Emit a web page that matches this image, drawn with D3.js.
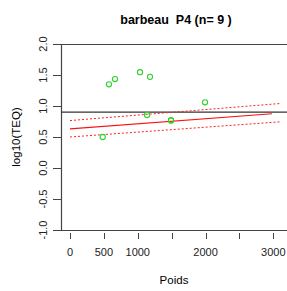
<!DOCTYPE html>
<html>
<head>
<meta charset="utf-8">
<script src="https://cdn.jsdelivr.net/npm/d3@7.9.0/dist/d3.min.js"></script>
<style>
  body { margin: 0; background: #fff; }
  svg { display: block; font-family: "Liberation Sans", Arial, sans-serif; }
</style>
</head>
<body>
<svg width="287" height="291"></svg>
<script>
// observations (Poids, log10 TEQ)
const poids = [483, 575, 664, 1033, 1137, 1181, 1491, 1491, 1993];
const logTeq = [0.50, 1.35, 1.435, 1.545, 0.855, 1.47, 0.765, 0.77, 1.06];

// regression line and its bands
const fitX = [0, 2980];
const fitY = [0.63, 0.875];
const bandX = [0, 3100];
const bandUpper = [0.765, 1.04];
const bandLower = [0.50, 0.745];
const seuil = 0.9;

const xTicks = [0, 500, 1000, 1500, 2000, 2500, 3000];
const xLabels = [0, 500, 1000, 2000, 3000];
const yTicks = [-1.0, -0.5, 0.0, 0.5, 1.0, 1.5, 2.0];

const svg = d3.select('svg');
const plotLeft = 61, plotTop = 44, plotBottom = 230;

let x = d3.scaleLinear().domain([0, 3000]).range([70, 273.3]);
let y = d3.scaleLinear().domain([-1, 2]).range([plotBottom, plotTop]);
const axisCol = '#444';

// box (right side is outside the window)
svg.append('path')
  .attr('d', `M287,${plotTop + 0.5}H${plotLeft + 0.5}V${plotBottom + 0.5}H287`)
  .attr('fill', 'none').attr('stroke', axisCol).attr('stroke-width', 1.2);

// y axis ticks + labels
yTicks.forEach((t) => {
  let yy = Math.round(y(t)) + 0.5;
  svg.append('line').attr('x1', 53).attr('x2', plotLeft).attr('y1', yy).attr('y2', yy)
    .attr('stroke', axisCol);
  svg.append('text')
    .attr('transform', `translate(47,${y(t)}) rotate(-90)`)
    .attr('text-anchor', 'middle')
    .attr('font-size', 11).attr('fill', '#222')
    .text(t.toFixed(1));
});

// x axis ticks + labels
xTicks.forEach((t) => {
  let xx = Math.round(x(t)) + 0.5;
  svg.append('line').attr('x1', xx).attr('x2', xx).attr('y1', 233).attr('y2', 239)
    .attr('stroke', axisCol);
});
xLabels.forEach((t) => {
  svg.append('text')
    .attr('x', x(t)).attr('y', 256)
    .attr('text-anchor', 'middle')
    .attr('font-size', 11).attr('fill', '#222')
    .text(t);
});

// threshold
svg.append('line')
  .attr('x1', plotLeft).attr('x2', 287).attr('y1', y(seuil)).attr('y2', y(seuil))
  .attr('stroke', '#333').attr('stroke-width', 1.2);

const line = d3.line().x((d) => x(d[0])).y((d) => y(d[1]));

svg.append('path')
  .attr('d', line(d3.zip(bandX, bandUpper)))
  .attr('fill', 'none').attr('stroke', '#ff2020').attr('stroke-dasharray', '2,2');
svg.append('path')
  .attr('d', line(d3.zip(bandX, bandLower)))
  .attr('fill', 'none').attr('stroke', '#ff2020').attr('stroke-dasharray', '2,2');
svg.append('path')
  .attr('d', line(d3.zip(fitX, fitY)))
  .attr('fill', 'none').attr('stroke', '#ff1010').attr('stroke-width', 1.2);

// points
svg.selectAll('circle.pt')
  .data(d3.zip(poids, logTeq))
  .join('circle')
  .attr('class', 'pt')
  .attr('cx', (d) => x(d[0]))
  .attr('cy', (d) => y(d[1]))
  .attr('r', 2.6)
  .attr('fill', 'none')
  .attr('stroke', '#2ed12e')
  .attr('stroke-width', 1.1);

// titles
svg.append('text')
  .attr('x', 176).attr('y', 24)
  .attr('text-anchor', 'middle')
  .attr('font-size', 12.5).attr('font-weight', 'bold')
  .attr('xml:space', 'preserve')
  .text('barbeau  P4 (n= 9 )');

svg.append('text')
  .attr('x', 174).attr('y', 284)
  .attr('text-anchor', 'middle')
  .attr('font-size', 11.5)
  .text('Poids');

svg.append('text')
  .attr('transform', `translate(20,${(plotTop + plotBottom) / 2}) rotate(-90)`)
  .attr('text-anchor', 'middle')
  .attr('font-size', 11.5)
  .text('log10(TEQ)');
</script>
</body>
</html>
